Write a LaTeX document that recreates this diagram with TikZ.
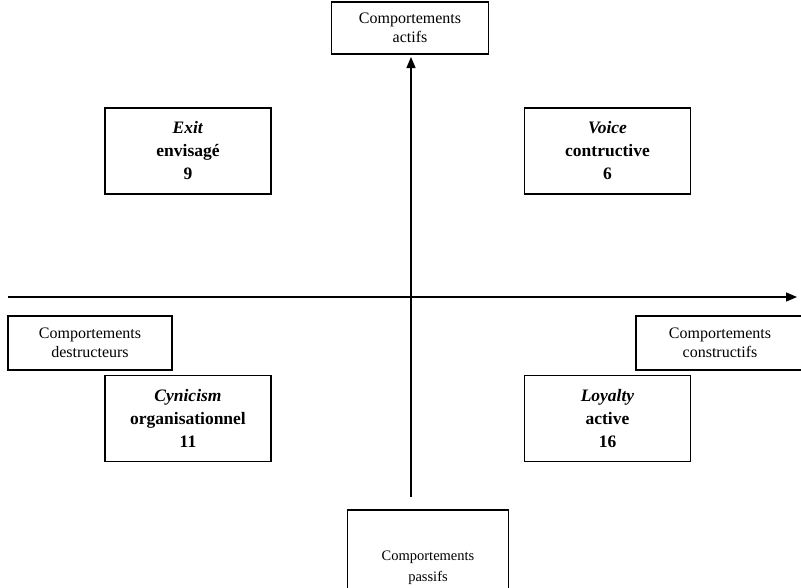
\documentclass[tikz,border=0pt]{standalone}
\usepackage{fontspec}
\setmainfont{Liberation Serif}
\usetikzlibrary{arrows.meta}
\begin{document}
\begin{tikzpicture}[x=1pt,y=-1pt,
  lbl/.style={draw, line width=1.1pt, inner sep=0pt, align=center, font=\fontsize{16}{19}\selectfont},
  quad/.style={draw, line width=1.1pt, inner sep=0pt, align=center, minimum width=166pt, minimum height=86pt, font=\bfseries\fontsize{17.5}{23}\selectfont},
  axis/.style={line width=1.3pt, -{Triangle[length=11pt,width=9pt]}}]
\useasboundingbox (0,0) rectangle (801,587);
\node[lbl, minimum width=157pt, minimum height=52pt] (act) at (410,28) {Comportements\\actifs};
\node[lbl, minimum width=164pt, minimum height=54pt] (des) at (90,343) {Comportements\\destructeurs};
\node[lbl, minimum width=168pt, minimum height=54pt] (con) at (720,343) {Comportements\\constructifs};
\node[lbl, minimum width=161pt, minimum height=116pt, font=\fontsize{14.5}{21}\selectfont] (pas) at (428,568) {Comportements\\passifs};
\node[quad] (exit) at (188,151) {\textit{Exit}\\envisagé\\9};
\node[quad] (voice) at (607.5,151) {\textit{Voice}\\contructive\\6};
\node[quad] (cyn) at (188,418.5) {\textit{Cynicism}\\organisationnel\\11};
\node[quad] (loy) at (607.5,418.5) {\textit{Loyalty}\\active\\16};
\coordinate (vb) at (411,497);
\coordinate (vt) at (411,57);
\coordinate (hl) at (8,297);
\coordinate (hr) at (797,297);
\draw[axis] (vb) -- (vt);
\draw[axis] (hl) -- (hr);
\end{tikzpicture}
\end{document}
